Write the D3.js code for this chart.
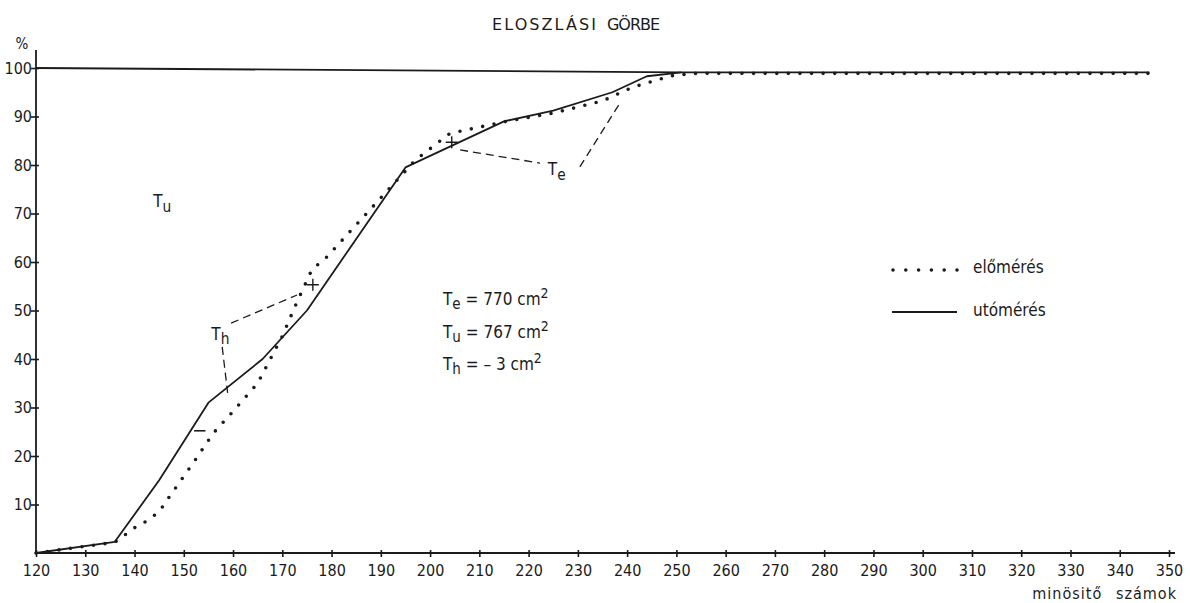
<!DOCTYPE html>
<html>
<head>
<meta charset="utf-8">
<script src="https://cdn.jsdelivr.net/npm/d3@7"></script>
<style>
  body { margin: 0; background: #ffffff; }
  svg text {
    font-family: "DejaVu Sans Condensed", "Liberation Sans", sans-serif;
    fill: #1b1b1b;
  }
</style>
</head>
<body>
<svg id="chart" width="1190" height="603"></svg>
<script>
// ---- data -------------------------------------------------------------
const xTicks = [120,130,140,150,160,170,180,190,200,210,220,230,240,250,260,270,280,290,300,310,320,330,340,350];
const yTicks = [10,20,30,40,50,60,70,80,90,100];

// előmérés (pre-measurement), cumulative %
const eloX = [120,136,140,142.5,145,147,152,156,160,165,170,173,176,179,197,204,215,225,235,241,249,254,346];
const eloY = [0,2.2,5.2,6.6,8.5,11.5,18.7,24.7,29.2,35,44.7,51.8,58.4,61,81,86.5,88.9,90.7,93.2,96,98.4,98.9,98.9];

// utómérés (post-measurement), cumulative %
const utoX = [120,136,145,155,166,175,195,215,225,237,244,251,346];
const utoY = [0,2.3,15,31,40,50,79.5,89,91.2,95,98.3,99.1,99.1];

// 100 % guide line
const refX = [120,251];
const refY = [100,99.1];

// ---- layout -------------------------------------------------------------
const svg = d3.select("#chart");
const x = d3.scaleLinear().domain([120,350]).range([36,1169]);
const y = d3.scaleLinear().domain([0,100]).range([553,68]);
const ink = "#1b1b1b";

const line = d3.line().x(d => x(d[0])).y(d => y(d[1]));
const pts = (xs, ys) => xs.map((v,i) => [v, ys[i]]);

// title, two words
svg.append("text").attr("x", 492).attr("y", 30)
  .attr("textLength", 104).attr("lengthAdjust", "spacing")
  .style("font-family", "'DejaVu Sans', sans-serif").style("font-size", "16px").text("ELOSZLÁSI");
svg.append("text").attr("x", 607).attr("y", 30)
  .attr("textLength", 53).attr("lengthAdjust", "spacing")
  .style("font-family", "'DejaVu Sans', sans-serif").style("font-size", "16px").text("GÖRBE");

// x axis
const xAxis = d3.axisBottom(x).tickValues(xTicks).tickSize(4).tickPadding(8).tickFormat(d3.format("d"));
const gx = svg.append("g").attr("transform", `translate(0,${y(0)})`).call(xAxis);
gx.select(".domain").attr("d", `M${x(120)},0H${x(350)+6}`).attr("stroke", ink).attr("stroke-width", 1.8);
gx.selectAll(".tick line").attr("y1", -3).attr("y2", 4).attr("stroke", ink).attr("stroke-width", 1.6);
gx.selectAll(".tick text").style("font-size", "16px").attr("fill", ink);

// y axis
const yAxis = d3.axisLeft(y).tickValues(yTicks).tickSize(5).tickPadding(2).tickFormat(d3.format("d"));
const gy = svg.append("g").attr("transform", `translate(${x(120)},0)`).call(yAxis);
gy.select(".domain").attr("d", `M0,${y(0)}V${y(100)-18}`).attr("stroke", ink).attr("stroke-width", 1.8);
gy.selectAll(".tick line").attr("x1", -5).attr("x2", 3).attr("stroke", ink).attr("stroke-width", 1.6);
gy.selectAll(".tick text").attr("x", -4).style("font-size", "16px").attr("fill", ink);

// axis captions
svg.append("text").attr("x", 22).attr("y", 49).attr("text-anchor", "middle")
  .style("font-size", "15px").text("%");
svg.append("text").attr("x", 1177).attr("y", 599).attr("text-anchor", "end")
  .style("font-size", "16px").style("letter-spacing", "1px").text("minösitő\u2002 számok");

// 100 % guide line
svg.append("path").datum(pts(refX, refY)).attr("d", line)
  .attr("fill", "none").attr("stroke", ink).attr("stroke-width", 1.8);

// curves
svg.append("path").datum(pts(utoX, utoY)).attr("d", line)
  .attr("fill", "none").attr("stroke", ink).attr("stroke-width", 1.8)
  .attr("stroke-linejoin", "round");

svg.append("path").datum(pts(eloX, eloY)).attr("d", line)
  .attr("fill", "none").attr("stroke", ink).attr("stroke-width", 3.6)
  .attr("stroke-linecap", "round").attr("stroke-dasharray", "0 11.6");

// ---- annotations (data units) ------------------------------------------
const dashes = [
  [[159.6,47.4],[173,53.2]],
  [[157.8,42.5],[158.9,33]],
  [[206.1,83.1],[222.3,80.4]],
  [[230.4,79.6],[238.8,93.2]]
];
dashes.forEach(seg => svg.append("path").datum(seg).attr("d", line)
  .attr("fill", "none").attr("stroke", ink).attr("stroke-width", 1.3)
  .attr("stroke-dasharray", "8 5"));

// crosses where the area labels point
const crosses = [[176.2,55.3],[204.4,84.7]];
crosses.forEach(c => {
  const cx = x(c[0]), cy = y(c[1]);
  svg.append("path").attr("d", `M${cx-6},${cy}H${cx+6}M${cx},${cy-6}V${cy+6}`)
    .attr("stroke", ink).attr("stroke-width", 1.4);
});
// short mark on the curve
svg.append("path").attr("d", `M${x(152.1)},${y(25.2)}H${x(154.4)}`).attr("stroke", ink).attr("stroke-width", 1.6);

function subLabel(px, py, main, sub, size) {
  const t = svg.append("text").attr("x", px).attr("y", py).style("font-size", size + "px");
  t.append("tspan").text(main);
  t.append("tspan").attr("dy", size*0.28).style("font-size", (size*0.9) + "px").text(sub);
  return t;
}
subLabel(x(143.8), y(71.3), "T", "u", 17);
subLabel(x(155.6), y(44), "T", "h", 17);
subLabel(x(223.9), y(77.9), "T", "e", 17);

// area values
function formula(py, sub, rest) {
  const t = svg.append("text").attr("x", 443).attr("y", py).style("font-size", "17px");
  t.append("tspan").text("T");
  t.append("tspan").attr("dy", 4).style("font-size", "15px").text(sub);
  t.append("tspan").attr("dy", -4).text(rest);
  t.append("tspan").attr("dy", -7).style("font-size", "14px").text("2");
}
formula(305, "e", " = 770 cm");
formula(338, "u", " = 767 cm");
formula(370, "h", " =  – 3 cm");

// legend
svg.append("path").attr("d", `M893,270H958`).attr("stroke", ink).attr("stroke-width", 3.6)
  .attr("stroke-linecap", "round").attr("stroke-dasharray", "0 12.8").attr("fill", "none");
svg.append("text").attr("x", 973).attr("y", 273).style("font-size", "17px").text("előmérés");
svg.append("path").attr("d", `M892,312H957`).attr("stroke", ink).attr("stroke-width", 1.8);
svg.append("text").attr("x", 973).attr("y", 316).style("font-size", "17px").text("utómérés");
</script>
</body>
</html>
